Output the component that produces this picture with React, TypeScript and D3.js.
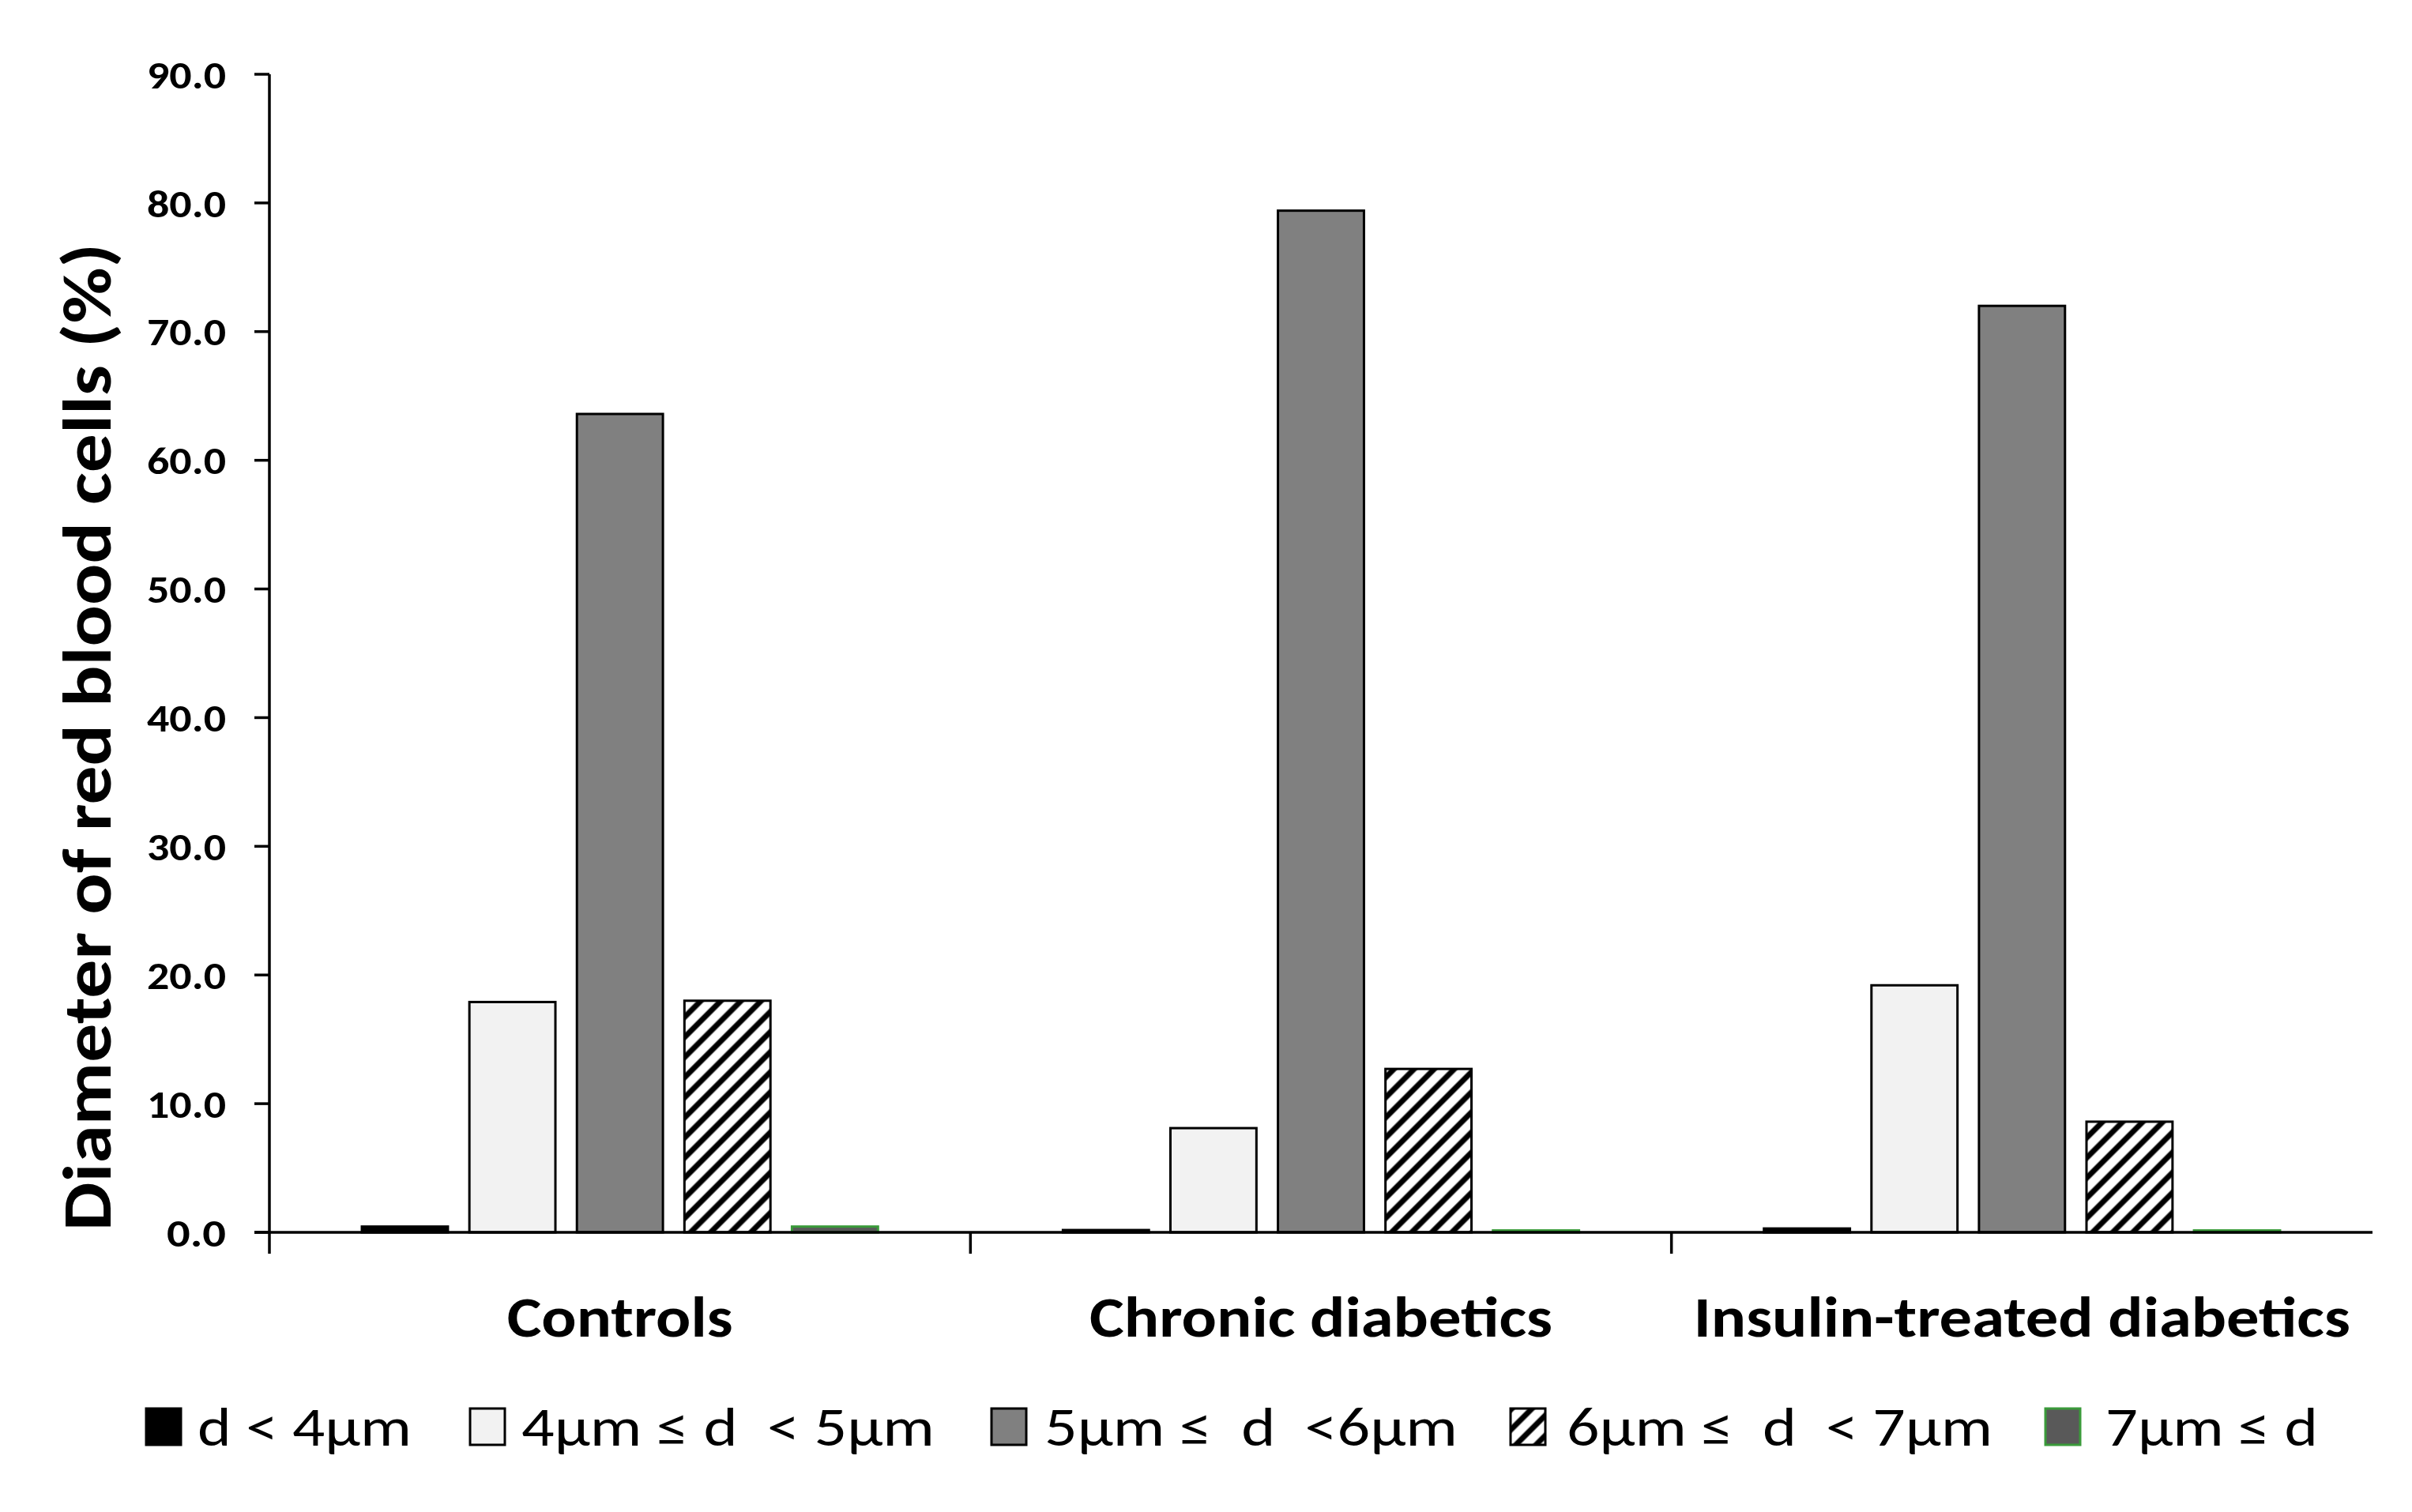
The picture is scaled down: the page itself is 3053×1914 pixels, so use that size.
import React, { useEffect, useRef } from "react";
import * as d3 from "d3";

// values (% of red blood cells)
const categories = ["Controls", "Chronic diabetics", "Insulin-treated diabetics"];
const sizeClasses = ["d < 4µm", "4µm ≤ d  < 5µm", "5µm ≤  d  <6µm", "6µm ≤  d  < 7µm", "7µm ≤ d"];
const below4 = [0.45, 0.18, 0.3];
const from4to5 = [17.9, 8.1, 19.2];
const from5to6 = [63.6, 79.4, 72.0];
const from6to7 = [18.0, 12.7, 8.6];
const above7 = [0.45, 0.15, 0.15];
const yTicks = [0, 10, 20, 30, 40, 50, 60, 70, 80, 90];

const series = [below4, from4to5, from5to6, from6to7, above7];

const W = 3053;
const H = 1914;
const FONT = "Calibri, Carlito, Lato, sans-serif";

const fills = ["#000000", "#f2f2f2", "#808080", "url(#hatch)", "#595959"];
const strokes = ["#000000", "#000000", "#000000", "#000000", "#3a9a3a"];

// legend layout (text start and width of each entry)
const legendBoxX = [185, 595, 1255, 1912, 2589];
const legendTextX = [250, 660, 1322, 1983, 2665];
const legendTextW = [271, 523, 523, 539, 269];
const catLabelW = [286, 586, 831];

const App: React.FC = () => {
	const svgRef = useRef<SVGSVGElement>(null);

	useEffect(() => {
		if (!svgRef.current) return;
		const svg = d3.select(svgRef.current);
		svg.selectAll("*").remove();

		const left = 341;
		const right = 3003;
		const y0 = 1560;
		const yTop = 94;

		const defs = svg.append("defs");
		const pat = defs
			.append("pattern")
			.attr("id", "hatch")
			.attr("patternUnits", "userSpaceOnUse")
			.attr("width", 18)
			.attr("height", 18)
			.attr("patternTransform", "rotate(45)");
		pat.append("rect").attr("width", 18).attr("height", 18).attr("fill", "#fff");
		pat
			.append("line")
			.attr("x1", 4)
			.attr("x2", 4)
			.attr("y1", 0)
			.attr("y2", 18)
			.attr("stroke", "#000")
			.attr("stroke-width", 7);

		const x0 = d3.scaleBand().domain(categories).range([left, right]).padding(0);

		const x1 = d3
			.scaleBand()
			.domain(sizeClasses)
			.range([0, x0.bandwidth()])
			.paddingInner(0.2)
			.paddingOuter(0.86);

		const y = d3.scaleLinear().domain([0, 90]).range([y0, yTop]);

		// bars
		const groups = svg
			.append("g")
			.selectAll("g")
			.data(categories)
			.join("g")
			.attr("transform", (d) => `translate(${x0(d)},0)`);

		groups
			.selectAll("rect")
			.data((_, ci) => series.map((s, si) => ({ key: sizeClasses[si], si, value: s[ci] })))
			.join("rect")
			.attr("x", (d) => x1(d.key) || 0)
			.attr("y", (d) => y(d.value))
			.attr("width", x1.bandwidth())
			.attr("height", (d) => y0 - y(d.value))
			.attr("fill", (d) => fills[d.si])
			.attr("stroke", (d) => strokes[d.si])
			.attr("stroke-width", 3);

		// y axis
		const ax = svg.append("g").attr("stroke", "#000").attr("stroke-width", 3.5);
		ax.append("line").attr("x1", left).attr("x2", left).attr("y1", yTop).attr("y2", 1587);
		ax.selectAll("line.tick")
			.data(yTicks)
			.join("line")
			.attr("class", "tick")
			.attr("x1", left - 19)
			.attr("x2", left)
			.attr("y1", (d) => y(d))
			.attr("y2", (d) => y(d));

		const fmt = d3.format(".1f");
		svg
			.append("g")
			.selectAll("text")
			.data(yTicks)
			.join("text")
			.attr("x", 286)
			.attr("y", (d) => y(d))
			.attr("dy", "0.36em")
			.attr("text-anchor", "end")
			.attr("font-family", FONT)
			.attr("font-weight", "bold")
			.attr("font-size", 49)
			.attr("textLength", (d) => fmt(d).length * 25)
			.attr("lengthAdjust", "spacingAndGlyphs")
			.text((d) => fmt(d));

		// x axis
		ax.append("line").attr("x1", left - 19).attr("x2", right).attr("y1", y0).attr("y2", y0);
		ax.selectAll("line.cat")
			.data(categories.slice(1))
			.join("line")
			.attr("class", "cat")
			.attr("x1", (d) => x0(d) || 0)
			.attr("x2", (d) => x0(d) || 0)
			.attr("y1", y0)
			.attr("y2", 1587);

		svg
			.append("g")
			.selectAll("text")
			.data(categories)
			.join("text")
			.attr("x", (d) => (x0(d) || 0) + x0.bandwidth() / 2)
			.attr("y", 1692)
			.attr("text-anchor", "middle")
			.attr("font-family", FONT)
			.attr("font-weight", "bold")
			.attr("font-size", 72)
			.attr("textLength", (_, i) => catLabelW[i])
			.attr("lengthAdjust", "spacingAndGlyphs")
			.text((d) => d);

		// y title
		svg
			.append("text")
			.attr("transform", `translate(140,${(1558 + 308) / 2}) rotate(-90)`)
			.attr("text-anchor", "middle")
			.attr("font-family", FONT)
			.attr("font-weight", "bold")
			.attr("font-size", 88)
			.attr("textLength", 1250)
			.attr("lengthAdjust", "spacingAndGlyphs")
			.text("Diameter of red blood cells (%)");

		// legend
		const legend = svg
			.append("g")
			.selectAll("g")
			.data(sizeClasses)
			.join("g");

		legend
			.append("rect")
			.attr("x", (_, i) => legendBoxX[i])
			.attr("y", 1783)
			.attr("width", 44)
			.attr("height", 46)
			.attr("fill", (_, i) => fills[i])
			.attr("stroke", (_, i) => strokes[i])
			.attr("stroke-width", 3);

		legend
			.append("text")
			.attr("x", (_, i) => legendTextX[i])
			.attr("y", 1830)
			.attr("font-family", FONT)
			.attr("font-size", 70)
			.attr("textLength", (_, i) => legendTextW[i])
			.attr("lengthAdjust", "spacingAndGlyphs")
			.style("white-space", "pre")
			.text((d) => d);
	}, []);

	return (
		<svg
			ref={svgRef}
			width={W}
			height={H}
			style={{ position: "absolute", left: 0, top: 0, background: "#fff" }}
		/>
	);
};

export default App;
